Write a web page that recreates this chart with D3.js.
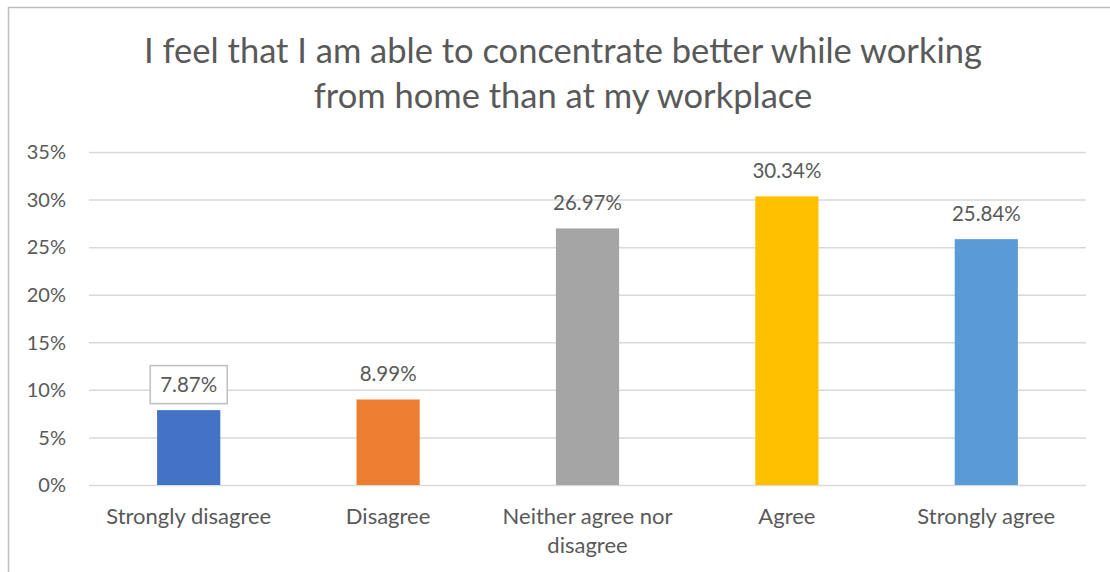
<!DOCTYPE html>
<html>
<head>
<meta charset="utf-8">
<script src="https://cdn.jsdelivr.net/npm/d3@7"></script>
<style>
  html, body { margin: 0; padding: 0; background: #fff; }
  svg { display: block; }
  text { font-family: Lato, "Open Sans", sans-serif; fill: #595959; }
</style>
</head>
<body>
<svg id="chart" width="1110" height="572"></svg>
<script>
// Survey responses (share of respondents)
const categories = ["Strongly disagree", "Disagree", "Neither agree nor disagree", "Agree", "Strongly agree"];
const values = [7.87, 8.99, 26.97, 30.34, 25.84];
const colors = ["#4472C4", "#ED7D31", "#A5A5A5", "#FFC000", "#5B9BD5"];
const yTicks = [0, 5, 10, 15, 20, 25, 30, 35];
const titleLines = ["I feel that I am able to concentrate better while working", "from home than at my workplace"];

const svg = d3.select("#chart");
const W = 1110, H = 572;
const plot = { left: 89, right: 1086, top: 152, bottom: 485 };

// Outer chart frame
svg.append("rect")
  .attr("x", 8.5).attr("y", 7.5)
  .attr("width", W + 10).attr("height", H + 10)
  .attr("fill", "#fff").attr("stroke", "#BFBFBF").attr("stroke-width", 1.5);

// Title
svg.append("g").selectAll("text")
  .data(titleLines).join("text")
  .attr("x", 563).attr("y", (d, i) => 63 + i * 45)
  .attr("text-anchor", "middle")
  .style("font-size", "34.5px")
  .text(d => d);

const x = d3.scaleBand().domain(categories).range([plot.left, plot.right]).paddingInner(0.683).paddingOuter(0.3415);
const y = d3.scaleLinear().domain([0, 35]).range([plot.bottom, plot.top]);

// Gridlines + y labels
const yAxis = d3.axisLeft(y).tickValues(yTicks).tickFormat(d => d + "%")
  .tickSize(-(plot.right - plot.left)).tickPadding(23);
const gy = svg.append("g").attr("transform", `translate(${plot.left},0)`).call(yAxis);
gy.select(".domain").remove();
gy.selectAll(".tick line").attr("stroke", "#D9D9D9").attr("stroke-width", 1.5);
gy.selectAll(".tick text").style("font-size", "20px").attr("fill", "#595959").attr("dy", "0.34em");

// Bars
svg.append("g").selectAll("rect")
  .data(values).join("rect")
  .attr("x", (d, i) => x(categories[i]))
  .attr("y", d => y(d))
  .attr("width", x.bandwidth())
  .attr("height", d => y(0) - y(d))
  .attr("fill", (d, i) => colors[i]);

// Value labels
const labels = svg.append("g").selectAll("g")
  .data(values).join("g")
  .attr("transform", (d, i) => `translate(${x(categories[i]) + x.bandwidth() / 2},${y(d) - 26})`);
labels.each(function (d, i) {
  const g = d3.select(this);
  if (i === 0) {
    g.append("rect").attr("x", -38.5).attr("y", -18.5).attr("width", 77).attr("height", 38)
      .attr("fill", "#fff").attr("stroke", "#BFBFBF").attr("stroke-width", 1.5);
  }
  g.append("text").attr("text-anchor", "middle").attr("dy", "0.36em")
    .style("font-size", "20.5px").attr("fill", "#404040")
    .text(d.toFixed(2) + "%");
});

// Category labels (wrapped where needed)
const catLines = { "Neither agree nor disagree": ["Neither agree nor", "disagree"] };
const gx = svg.append("g");
categories.forEach(c => {
  const lines = catLines[c] || [c];
  gx.append("text")
    .attr("x", x(c) + x.bandwidth() / 2)
    .attr("text-anchor", "middle")
    .style("font-size", "22px")
    .selectAll("tspan").data(lines).join("tspan")
    .attr("x", x(c) + x.bandwidth() / 2)
    .attr("y", (d, i) => 524 + i * 29)
    .text(d => d);
});
</script>
</body>
</html>
